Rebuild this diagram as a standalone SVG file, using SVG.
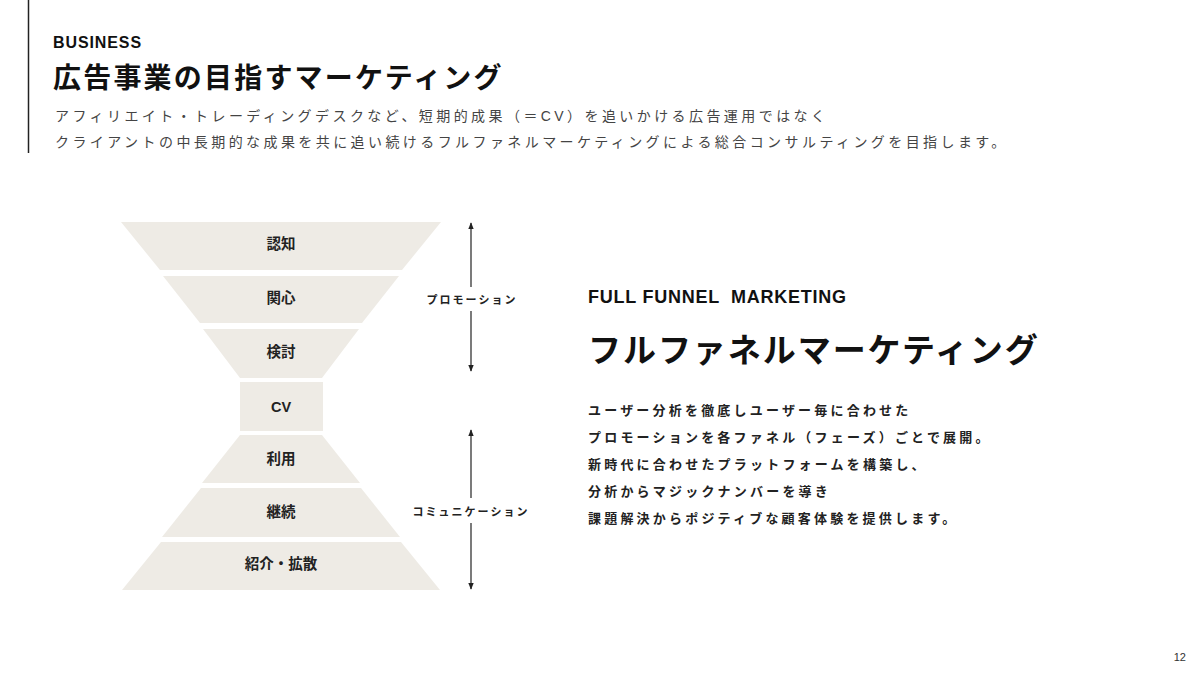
<svg xmlns="http://www.w3.org/2000/svg" width="1200" height="675" viewBox="0 0 1200 675">
<style>
.band{fill:#EEEBE5;}
.lbl{font-family:"Liberation Sans","Noto Sans CJK JP",sans-serif;font-size:14.5px;font-weight:700;fill:#222;text-anchor:middle;}
.side{font-family:"Noto Sans CJK JP",sans-serif;font-size:11px;font-weight:700;fill:#222;text-anchor:middle;letter-spacing:2px;}
.sub{font-family:"Liberation Sans","Noto Sans CJK JP",sans-serif;font-size:14px;fill:#444;letter-spacing:3.42px;}
.body{font-family:"Noto Sans CJK JP",sans-serif;font-size:13px;font-weight:700;fill:#222;letter-spacing:3.2px;}
.arr{stroke:#222;stroke-width:1.2;fill:none;}
</style>
<defs>
<marker id="ah" viewBox="0 0 10 10" refX="9" refY="5" markerWidth="7" markerHeight="7" orient="auto-start-reverse" markerUnits="userSpaceOnUse">
<path d="M0,1 L10,5 L0,9 Z" fill="#222"/>
</marker>
</defs>
<rect width="1200" height="675" fill="#ffffff"/>
<line x1="28.5" y1="0" x2="28.5" y2="153" stroke="#222" stroke-width="1.5"/>
<g id="header">
<text x="53" y="48" font-family="Liberation Sans,Arial,sans-serif" font-size="16" font-weight="700" fill="#111" letter-spacing="0.9">BUSINESS</text>
<text x="53" y="88" font-family="Noto Sans CJK JP,sans-serif" font-size="28" font-weight="700" fill="#111" letter-spacing="2.2">広告事業の目指すマーケティング</text>
<text class="sub" x="55" y="121">アフィリエイト・トレーディングデスクなど、短期的成果（＝CV）を追いかける広告運用ではなく</text>
<text class="sub" x="55" y="147">クライアントの中長期的な成果を共に追い続けるフルファネルマーケティングによる総合コンサルティングを目指します。</text>
</g>
<g id="n-ninchi"><polygon class="band" points="121,222 441,222 402,270 160,270"/><text class="lbl" x="281" y="249">認知</text></g>
<g id="n-kanshin"><polygon class="band" points="163,276 399,276 362,323 200,323"/><text class="lbl" x="281" y="303">関心</text></g>
<g id="n-kento"><polygon class="band" points="203,329 359,329 322,378 240,378"/><text class="lbl" x="281" y="357">検討</text></g>
<g id="n-cv"><rect class="band" x="240" y="382" width="83" height="49"/><text class="lbl" x="281" y="412">CV</text></g>
<g id="n-riyou"><polygon class="band" points="240,435 322,435 360,483 202,483"/><text class="lbl" x="281" y="464">利用</text></g>
<g id="n-keizoku"><polygon class="band" points="201,488 361,488 400,537 162,537"/><text class="lbl" x="281" y="517">継続</text></g>
<g id="n-shoukai"><polygon class="band" points="161,542 401,542 440,590 122,590"/><text class="lbl" x="281" y="569">紹介・拡散</text></g>
<g id="connectors">
<line class="arr" x1="471" y1="287" x2="471" y2="223" marker-end="url(#ah)"/>
<line class="arr" x1="471" y1="311" x2="471" y2="371" marker-end="url(#ah)"/>
<line class="arr" x1="471" y1="498" x2="471" y2="430" marker-end="url(#ah)"/>
<line class="arr" x1="471" y1="523" x2="471" y2="589" marker-end="url(#ah)"/>
</g>
<g id="l-promotion"><text class="side" x="472" y="304">プロモーション</text></g>
<g id="l-communication"><text class="side" x="471" y="516">コミュニケーション</text></g>
<g id="right">
<text x="588" y="303" font-family="Liberation Sans,Arial,sans-serif" font-size="18" font-weight="700" fill="#111" letter-spacing="0.75" xml:space="preserve">FULL FUNNEL  MARKETING</text>
<text x="588" y="362" font-family="Noto Sans CJK JP,sans-serif" font-size="33" font-weight="700" fill="#111" letter-spacing="1.95">フルファネルマーケティング</text>
<text class="body" x="588" y="415">ユーザー分析を徹底しユーザー毎に合わせた</text>
<text class="body" x="588" y="442">プロモーションを各ファネル（フェーズ）ごとで展開。</text>
<text class="body" x="588" y="469">新時代に合わせたプラットフォームを構築し、</text>
<text class="body" x="588" y="496">分析からマジックナンバーを導き</text>
<text class="body" x="588" y="523">課題解決からポジティブな顧客体験を提供します。</text>
</g>
<text x="1186" y="661" font-family="Liberation Sans,Arial,sans-serif" font-size="11" fill="#333" text-anchor="end">12</text>
</svg>
